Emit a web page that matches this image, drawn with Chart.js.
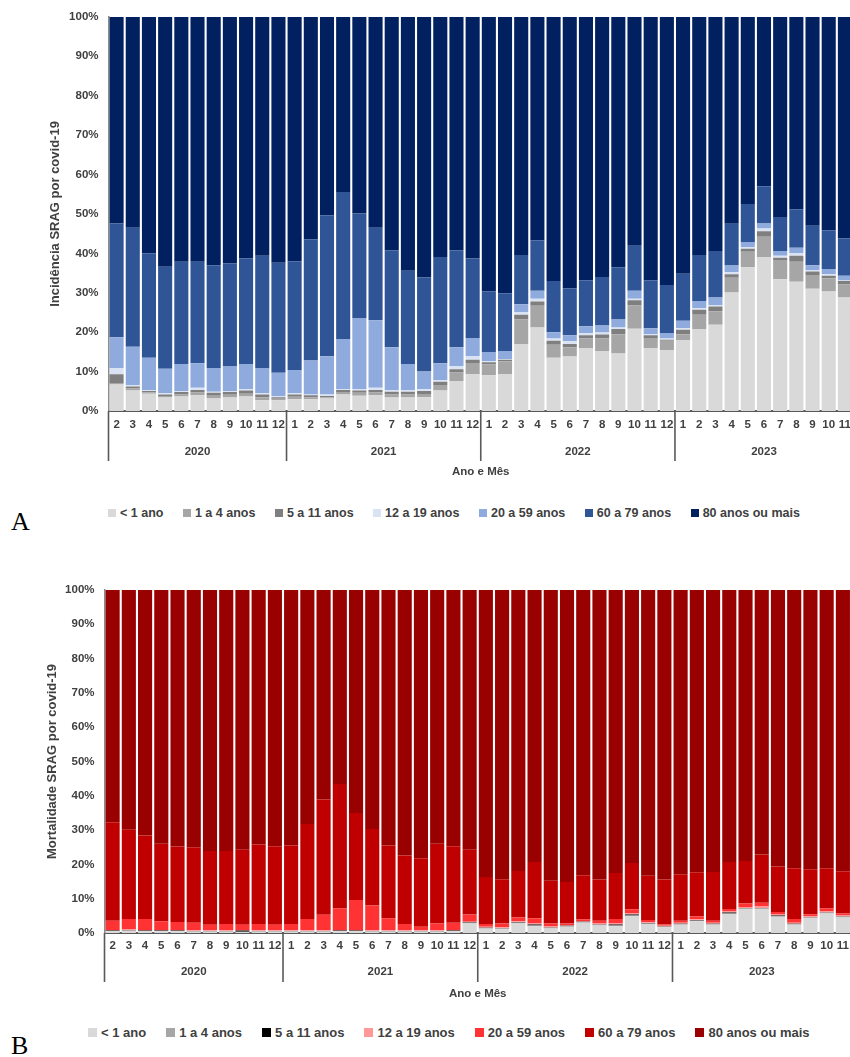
<!DOCTYPE html>
<html>
<head>
<meta charset="utf-8">
<script src="https://cdn.jsdelivr.net/npm/chart.js@4.4.1/dist/chart.umd.min.js"></script>
<style>
  html, body { margin:0; padding:0; background:#fff; overflow:hidden; width:850px; height:1057px; }
  .wrap { position:absolute; overflow:visible; }
  .legend { position:absolute; display:flex; align-items:center; font-family:'Liberation Sans', Arial, sans-serif; font-weight:bold; color:#404040; white-space:nowrap; }
  .legend .item { display:flex; align-items:center; }
  .legend .sw { display:inline-block; }
  .panel { position:absolute; font-family:'Liberation Serif','Times New Roman',serif; color:#000; line-height:26px; font-size:26px; }
</style>
</head>
<body>
<div class="wrap" style="left:0;top:0;width:863px;height:481px;"><canvas id="chartA" width="863" height="481" style="width:863px;height:481px;"></canvas></div>
<div class="legend" id="legendA" style="left:108px;top:505px;height:16px;font-size:12.5px;"></div>
<div class="panel" style="left:11px;top:509px;">A</div>

<div class="wrap" style="left:0;top:573px;width:861px;height:430px;"><canvas id="chartB" width="861" height="430" style="width:861px;height:430px;"></canvas></div>
<div class="legend" id="legendB" style="left:88px;top:1024px;height:16px;font-size:13px;"></div>
<div class="panel" style="left:11px;top:1033px;">B</div>

<script>
// ---------- categories ----------
const monthLabels = ['2','3','4','5','6','7','8','9','10','11','12',
  '1','2','3','4','5','6','7','8','9','10','11','12',
  '1','2','3','4','5','6','7','8','9','10','11','12',
  '1','2','3','4','5','6','7','8','9','10','11'];
const barYear = ['2020','2020','2020','2020','2020','2020','2020','2020','2020','2020','2020',
  '2021','2021','2021','2021','2021','2021','2021','2021','2021','2021','2021','2021',
  '2022','2022','2022','2022','2022','2022','2022','2022','2022','2022','2022','2022',
  '2023','2023','2023','2023','2023','2023','2023','2023','2023','2023','2023'];
const ageGroups = ['< 1 ano','1 a 4 anos','5 a 11 anos','12 a 19 anos','20 a 59 anos','60 a 79 anos','80 anos ou mais'];
const yTicks = [0,10,20,30,40,50,60,70,80,90,100];

// ---------- A: incidência (%) ----------
const incLt1   = [6.7,5.2,4.4,3.4,3.7,4.0,3.2,3.4,3.7,2.7,2.7, 3.0,3.0,3.2,4.2,3.9,4.0,3.4,3.4,3.5,5.2,7.6,9.3, 9.1,9.4,17.0,21.2,13.5,13.8,16.0,15.2,14.6,20.9,16.0,15.5, 18.0,20.8,21.9,30.1,36.5,39.1,33.4,32.8,31.0,30.3,28.8];
const inc1to4  = [0.4,0.5,0.3,0.4,0.5,0.7,0.7,0.7,0.7,0.8,0.4, 0.6,0.5,0.3,0.6,0.7,0.7,0.8,0.8,0.8,1.4,2.2,2.9, 2.7,3.2,6.2,5.5,3.3,2.4,2.4,3.2,4.9,5.9,2.5,2.3, 1.5,3.6,3.4,3.7,3.9,5.1,4.9,5.1,3.5,3.4,3.3];
const inc5to11 = [2.2,0.5,0.4,0.4,0.6,0.6,0.7,0.7,0.8,0.7,0.4, 0.6,0.5,0.3,0.5,0.6,0.6,0.7,0.7,0.8,0.8,0.8,0.8, 0.6,0.4,1.2,1.1,1.0,0.8,0.8,1.0,1.3,1.3,0.7,0.3, 1.1,1.3,1.2,0.9,0.8,1.4,0.6,1.5,0.9,0.6,0.9];
const inc12to19= [1.6,0.4,0.2,0.3,0.3,0.6,0.3,0.3,0.3,0.3,0.3, 0.3,0.2,0.4,0.3,0.4,0.6,0.4,0.4,0.4,0.4,0.8,0.9, 0.2,0.2,0.7,0.7,0.6,0.7,0.6,0.5,0.4,0.4,0.3,0.3, 0.4,0.4,0.4,0.5,0.4,0.7,0.5,0.6,0.4,0.4,0.1];
const inc20to59= [7.8,9.7,8.2,6.2,6.8,6.2,6.0,6.2,6.4,6.4,5.9, 5.9,8.6,9.7,12.7,17.9,17.1,10.9,6.6,4.5,4.3,4.8,4.6, 2.4,2.0,2.0,2.0,1.6,1.5,1.7,1.8,2.0,2.0,1.5,1.4, 1.9,1.8,1.9,1.7,1.3,1.3,1.2,1.4,1.2,1.3,1.2];
const inc60to79= [28.9,30.2,26.5,25.9,26.0,25.8,26.1,26.2,26.8,28.5,27.9, 27.6,30.8,35.8,37.3,26.6,23.5,24.6,23.7,23.9,27.0,24.6,20.2, 15.3,14.7,12.5,12.8,13.0,11.9,11.7,12.3,13.3,11.4,12.2,12.2, 11.9,11.7,11.8,10.6,9.6,9.4,8.6,9.8,10.0,9.8,9.5];
const inc80plus= [52.4,53.5,60.0,63.4,62.1,62.1,63.0,62.5,61.3,60.6,62.4, 62.0,56.4,50.3,44.4,49.9,53.5,59.2,64.4,66.1,60.9,59.2,61.3, 69.7,70.1,60.4,56.7,67.0,68.9,66.8,66.0,63.5,58.1,66.8,68.0, 65.2,60.4,59.4,52.5,47.5,43.0,50.8,48.8,53.0,54.2,56.2];

// ---------- B: mortalidade (%) ----------
const morLt1   = [0.5,0.6,0.5,0.5,0.5,0.4,0.4,0.4,0.3,0.4,0.4, 0.4,0.4,0.4,0.5,0.5,0.4,0.4,0.4,0.4,0.4,0.5,2.8, 1.3,1.1,2.8,2.0,1.3,1.8,3.0,2.2,2.0,4.9,2.6,1.7, 2.4,3.4,2.4,5.5,7.0,7.0,4.7,2.4,4.3,5.7,4.5];
const mor1to4  = [0.1,0.1,0.1,0.1,0.1,0.1,0.1,0.1,0.1,0.1,0.1, 0.1,0.1,0.1,0.1,0.1,0.1,0.1,0.1,0.1,0.1,0.1,0.2, 0.1,0.2,0.2,0.2,0.2,0.2,0.2,0.2,0.2,0.2,0.2,0.1, 0.2,0.2,0.2,0.2,0.2,0.2,0.2,0.2,0.2,0.2,0.2];
const mor5to11 = [0.1,0.1,0.1,0.1,0.1,0.1,0.1,0.1,0.3,0.1,0.1, 0.1,0.1,0.1,0.1,0.1,0.1,0.1,0.1,0.1,0.1,0.1,0.1, 0.1,0.1,0.1,0.3,0.1,0.1,0.1,0.1,0.3,0.3,0.1,0.1, 0.1,0.1,0.1,0.3,0.1,0.1,0.2,0.1,0.1,0.1,0.1];
const mor12to19= [0.2,0.2,0.2,0.2,0.2,0.2,0.2,0.2,0.2,0.2,0.2, 0.2,0.2,0.2,0.2,0.2,0.2,0.2,0.2,0.2,0.2,0.2,0.2, 0.3,0.3,0.3,0.3,0.3,0.2,0.2,0.3,0.3,0.4,0.2,0.2, 0.3,0.3,0.3,0.3,0.3,0.4,0.3,0.3,0.3,0.3,0.3];
const mor20to59= [2.7,3.1,3.2,2.5,2.3,2.2,1.6,1.8,1.5,1.8,1.6, 1.8,3.3,4.5,6.3,8.7,7.2,3.5,1.8,1.0,2.0,2.1,2.1, 0.8,1.1,1.1,1.5,0.9,0.5,0.5,0.8,1.3,1.1,0.7,0.4, 0.6,0.9,0.6,0.7,1.0,1.1,0.7,1.1,0.6,0.9,0.6];
const mor60to79= [28.7,26.0,24.3,22.6,22.0,22.0,21.5,21.3,21.9,23.2,22.9, 22.9,27.7,33.6,36.2,25.4,22.3,21.2,20.0,20.0,23.2,22.3,18.9, 13.7,12.9,13.6,16.4,12.4,12.1,12.8,12.0,13.4,13.5,12.9,13.1, 13.5,12.8,14.2,13.7,12.4,14.1,13.3,14.8,13.1,11.7,12.3];
const mor80plus= [67.7,69.9,71.6,74.0,74.8,75.0,76.1,76.1,75.7,74.2,74.7, 74.5,68.2,61.1,56.6,65.0,69.7,74.5,77.4,78.2,74.0,74.7,75.7, 83.7,84.3,81.9,79.3,84.8,85.1,83.2,84.4,82.5,79.6,83.3,84.4, 82.9,82.3,82.2,79.3,79.0,77.1,80.6,81.1,81.4,81.1,82.0];

const colorsA = ['#d9d9d9','#a6a6a6','#7f7f7f','#dae3f3','#8faadc','#2f5597','#002060'];
const colorsB = ['#d9d9d9','#a6a6a6','#000000','#ff9999','#ff3333','#c00000','#990000'];

const FONT = "'Liberation Sans', Arial, sans-serif";
const TXT = '#404040';

const yearGroups = {
  id: 'yearGroups',
  afterDraw(chart, args, o) {
    const xs = chart.scales.x, ctx = chart.ctx, b = chart.chartArea.bottom;
    const n = monthLabels.length;
    const step = xs.getPixelForValue(1) - xs.getPixelForValue(0);
    ctx.save();
    ctx.strokeStyle = '#595959';
    ctx.lineWidth = 1.6;
    ctx.fillStyle = TXT;
    ctx.font = 'bold 11.5px ' + FONT;
    ctx.textAlign = 'center';
    ctx.textBaseline = 'middle';
    let start = 0;
    for (let i = 1; i <= n; i++) {
      if (i === n || barYear[i] !== barYear[start]) {
        const xl = xs.getPixelForValue(start) - step / 2;
        ctx.beginPath(); ctx.moveTo(xl, b); ctx.lineTo(xl, b + o.lineLen); ctx.stroke();
        const cx = (xs.getPixelForValue(start) + xs.getPixelForValue(i - 1)) / 2;
        ctx.fillText(barYear[start], cx, b + o.labelOffset);
        start = i;
      }
    }
    const xr = xs.getPixelForValue(n - 1) + step / 2;
    ctx.beginPath(); ctx.moveTo(xr, b); ctx.lineTo(xr, b + o.lineLen); ctx.stroke();
    ctx.restore();
  }
};

function makeChart(id, series, colors, yTitle, cfg) {
  const datasets = series.map((d, k) => ({
    label: ageGroups[k], data: d, backgroundColor: colors[k], borderWidth: 0,
    barPercentage: 0.87, categoryPercentage: 1.0
  }));
  return new Chart(document.getElementById(id), {
    type: 'bar',
    data: { labels: monthLabels, datasets },
    plugins: [yearGroups],
    options: {
      responsive: false, animation: false,
      layout: { padding: { top: 15, left: cfg.padLeft, right: 10, bottom: 0 } },
      plugins: {
        legend: { display: false }, tooltip: { enabled: false },
        yearGroups: { lineLen: cfg.lineLen, labelOffset: cfg.yearOffset }
      },
      scales: {
        x: {
          stacked: true,
          grid: { display: false, drawTicks: false },
          border: { display: true, color: '#595959', width: 2 },
          ticks: { autoSkip: false, maxRotation: 0, minRotation: 0, padding: cfg.tickPad, color: TXT, font: { family: FONT, size: 11.5, weight: 'bold' } },
          title: { display: true, text: 'Ano e Mês', color: TXT, font: { family: FONT, size: 11.5, weight: 'bold' }, padding: { top: 0, bottom: 2 } },
          afterFit(s) { s.height = 70; }
        },
        y: {
          stacked: true, min: 0, max: 100,
          afterBuildTicks(s) { s.ticks = yTicks.map(v => ({ value: v })); },
          grid: { display: false, drawTicks: false },
          border: { display: true, color: '#8c8c8c', width: 1.6 },
          ticks: { padding: 10, color: TXT, font: { family: FONT, size: 11.5, weight: 'bold' }, callback: v => v + '%' },
          title: { display: true, text: yTitle, color: TXT, font: { family: FONT, size: 13, weight: 'bold' }, padding: 3 },
          afterFit(s) { s.width = cfg.yWidth; }
        }
      }
    }
  });
}

makeChart('chartA', [incLt1, inc1to4, inc5to11, inc12to19, inc20to59, inc60to79, inc80plus], colorsA,
  'Incidência SRAG por covid-19', { padLeft: 45, yWidth: 63.5, tickPad: 7, lineLen: 50, yearOffset: 41 });
makeChart('chartB', [morLt1, mor1to4, mor5to11, mor12to19, mor20to59, mor60to79, mor80plus], colorsB,
  'Mortalidade SRAG por covid-19', { padLeft: 42, yWidth: 62.5, tickPad: 6, lineLen: 49, yearOffset: 39 });

function buildLegend(id, colors, sw, gap) {
  const el = document.getElementById(id);
  ageGroups.forEach((name, k) => {
    const it = document.createElement('div');
    it.className = 'item';
    it.style.marginRight = gap + 'px';
    const s = document.createElement('span');
    s.className = 'sw';
    s.style.width = sw + 'px'; s.style.height = sw + 'px'; s.style.background = colors[k]; s.style.marginRight = '4px';
    const t = document.createElement('span');
    t.textContent = name;
    it.appendChild(s); it.appendChild(t);
    el.appendChild(it);
  });
}
buildLegend('legendA', colorsA, 8, 19.5);
buildLegend('legendB', colorsB, 9, 20);
</script>
</body>
</html>
